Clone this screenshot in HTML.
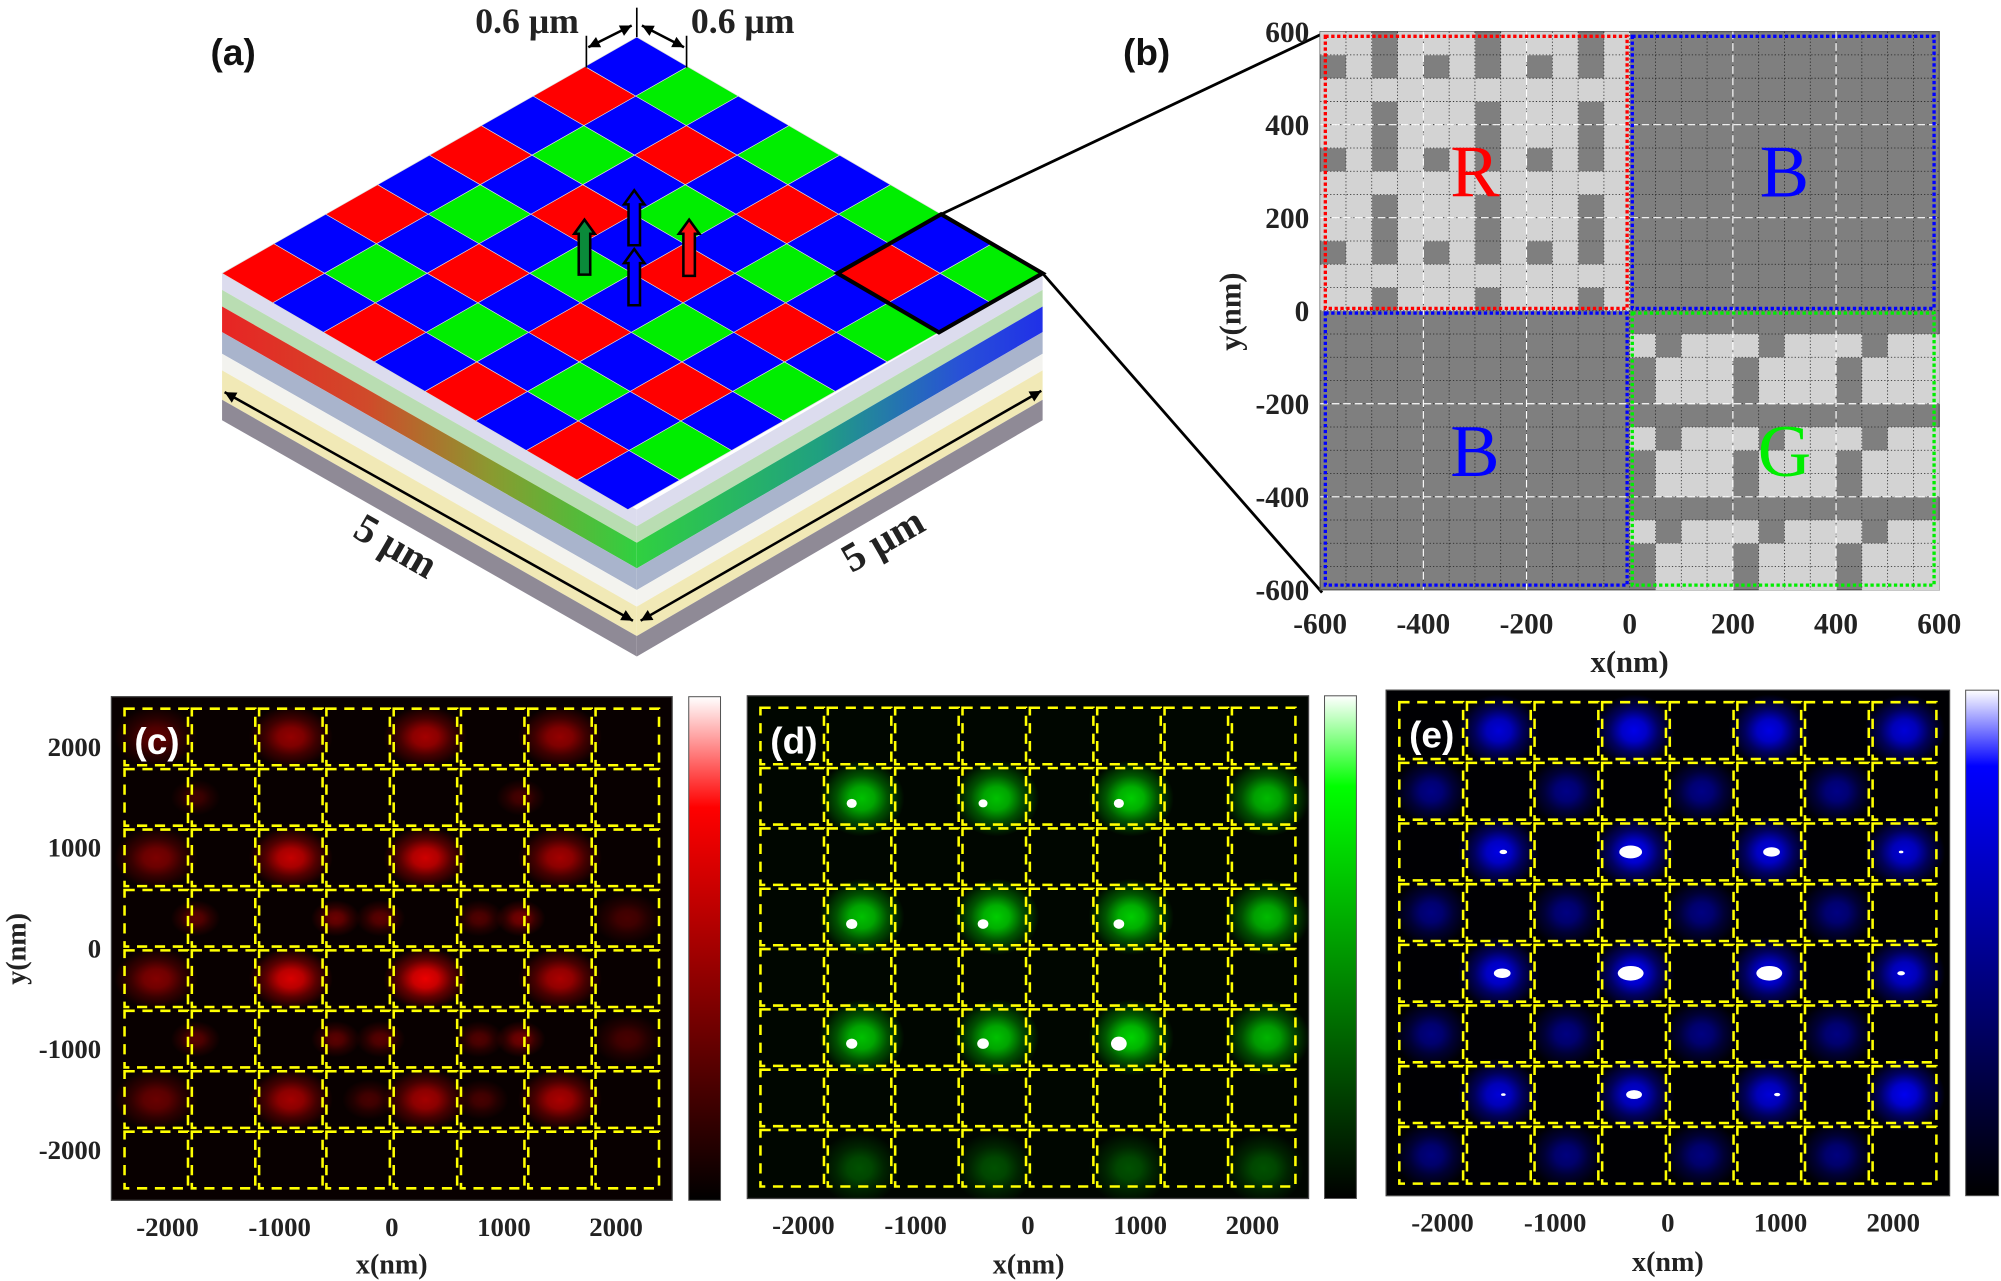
<!DOCTYPE html>
<html><head><meta charset="utf-8">
<style>
html,body{margin:0;padding:0;background:#fff;}
svg{display:block;}
.tk{font-family:"Liberation Serif",serif;font-weight:bold;fill:#222;}
.lbl{font-family:"Liberation Sans",sans-serif;font-weight:bold;}
</style></head>
<body>
<svg id="fig" xmlns="http://www.w3.org/2000/svg" width="2001" height="1281" viewBox="0 0 1568 1003" preserveAspectRatio="none">
<defs>
 <linearGradient id="gLeft" x1="0" y1="0" x2="1" y2="0"><stop offset="0" stop-color="#e82424"/><stop offset="0.35" stop-color="#d04a2a"/><stop offset="0.65" stop-color="#8a9a30"/><stop offset="1" stop-color="#30d040"/></linearGradient>
 <linearGradient id="gRight" x1="0" y1="0" x2="1" y2="0"><stop offset="0" stop-color="#30d040"/><stop offset="0.45" stop-color="#20a080"/><stop offset="0.8" stop-color="#2850d8"/><stop offset="1" stop-color="#2030e8"/></linearGradient>
 <linearGradient id="cbR" x1="0" y1="1" x2="0" y2="0"><stop offset="0" stop-color="#000"/><stop offset="0.78" stop-color="#ff0000"/><stop offset="1" stop-color="#fff"/></linearGradient>
 <linearGradient id="cbG" x1="0" y1="1" x2="0" y2="0"><stop offset="0" stop-color="#000"/><stop offset="0.82" stop-color="#00ff00"/><stop offset="1" stop-color="#fff"/></linearGradient>
 <linearGradient id="cbB" x1="0" y1="1" x2="0" y2="0"><stop offset="0" stop-color="#000"/><stop offset="0.85" stop-color="#0000ff"/><stop offset="1" stop-color="#fff"/></linearGradient>
</defs>
<g id="panelA"></g>
<g id="panelB"></g>
<g id="panelC"></g>
<g id="panelD"></g>
<g id="panelE"></g>

<text class="lbl" x="165" y="51" font-size="29" fill="#111">(a)</text>
<text class="lbl" x="880" y="51" font-size="29" fill="#111">(b)</text>
<text class="tk" x="413" y="26" font-size="28" text-anchor="middle">0.6 μm</text>
<text class="tk" x="582" y="26" font-size="28" text-anchor="middle">0.6 μm</text>
<text class="tk" x="310" y="438" font-size="32" text-anchor="middle" transform="rotate(30 310 428)">5 μm</text>
<text class="tk" x="692" y="433" font-size="32" text-anchor="middle" transform="rotate(-30 692 423)">5 μm</text>
<text class="tk" x="1277" y="526" font-size="24" text-anchor="middle">x(nm)</text>
<text class="tk" x="972" y="244" font-size="24" text-anchor="middle" transform="rotate(-90 972 244)">y(nm)</text>
<text class="tk" x="307" y="997" font-size="22" text-anchor="middle">x(nm)</text>
<text class="tk" x="806" y="997" font-size="22" text-anchor="middle">x(nm)</text>
<text class="tk" x="1307" y="995" font-size="22" text-anchor="middle">x(nm)</text>
<text class="tk" x="20" y="743" font-size="22" text-anchor="middle" transform="rotate(-90 20 743)">y(nm)</text>
</svg>
<script>
const NS="http://www.w3.org/2000/svg";
function mk(tag,attrs,parent){const e=document.createElementNS(NS,tag);for(const k in attrs)e.setAttribute(k,attrs[k]);parent.appendChild(e);return e;}

/* ---------- Panel (a) ---------- */
const gridN=8;
const layerBreaks=[0,13,26,46,63,76,99,115];
const layerColors=["#dcdcee","#b9ddb2","grad","#a9b4cc","#f3f3ef","#f1e9b6","#8f8a96"];
(function(){
 const A=document.getElementById('panelA');
 const T=[499,29],L=[174,214],R=[817,214],B=[499,399];
 for(let k=0;k<layerColors.length;k++){
  const a=layerBreaks[k],b=layerBreaks[k+1];
  const pl=mk('polygon',{points:`${L[0]},${L[1]+a} ${B[0]},${B[1]+a} ${B[0]},${B[1]+b} ${L[0]},${L[1]+b}`,fill:layerColors[k]==='grad'?'url(#gLeft)':layerColors[k]},A);
  
  
  const pr=mk('polygon',{points:`${B[0]},${B[1]+a} ${R[0]},${R[1]+a} ${R[0]},${R[1]+b} ${B[0]},${B[1]+b}`,fill:layerColors[k]==='grad'?'url(#gRight)':layerColors[k]},A);
  
  
 }
 const di=[(R[0]-T[0])/gridN,(R[1]-T[1])/gridN],dj=[(L[0]-T[0])/gridN,(L[1]-T[1])/gridN];
 const P=(i,j)=>[T[0]+i*di[0]+j*dj[0],T[1]+i*di[1]+j*dj[1]];
 for(let i=0;i<gridN;i++)for(let j=0;j<gridN;j++){
  let c='#0000ff';
  if(i%2===1&&j%2===0)c='#00ee00';
  if(i%2===0&&j%2===1)c='#ff0000';
  const p=[P(i,j),P(i+1,j),P(i+1,j+1),P(i,j+1)].map(q=>q.join(',')).join(' ');
  const cell=mk('polygon',{points:p,fill:c,stroke:'#ddd','stroke-width':0.5},A);
  
  
 }
 const bx=[P(6,0),P(8,0),P(8,2),P(6,2)].map(q=>q.join(',')).join(' ');
 const box=mk('polygon',{points:bx,fill:'none',stroke:'#000','stroke-width':3.2},A);
 
 
 const l1=mk('line',{x1:P(6,0)[0],y1:P(6,0)[1],x2:1035,y2:27,stroke:'#000','stroke-width':2.2},A);
 
 
 const l2=mk('line',{x1:R[0],y1:R[1],x2:1036,y2:464,stroke:'#000','stroke-width':2.2},A);
 
 
 function dbl(x1,y1,x2,y2,name){
  const g=mk('g',{},A);
  
  
  mk('line',{x1,y1,x2,y2,stroke:'#000','stroke-width':2},g);
  const ang=Math.atan2(y2-y1,x2-x1),h=9,w=4.5;
  for(const [x,y,s] of [[x1,y1,1],[x2,y2,-1]]){
   const ux=Math.cos(ang)*s,uy=Math.sin(ang)*s;
   mk('polygon',{points:`${x},${y} ${x+ux*h-uy*w},${y+uy*h+ux*w} ${x+ux*h+uy*w},${y+uy*h-ux*w}`,fill:'#000'},g);
  }
 }
 dbl(176,307,496,486,'dimension-arrow-left');
 dbl(502,486,816,306,'dimension-arrow-right');
 dbl(461,37,495,20,'pixel-arrow-left');
 dbl(503,20,536,37,'pixel-arrow-right');
 for(const [x,y1,y2] of [[499,6,29],[459.5,28,53],[538,28,53]]){
  const t=mk('line',{x1:x,y1:y1,x2:x,y2:y2,stroke:'#000','stroke-width':1.3},A);
  
  
 }
 function up(cx,y0,y1,fill,name){
  const hw=8,sw=4.5,hh=11;
  const pts=`${cx},${y0} ${cx+hw},${y0+hh} ${cx+sw},${y0+hh} ${cx+sw},${y1} ${cx-sw},${y1} ${cx-sw},${y0+hh} ${cx-hw},${y0+hh}`;
  const a=mk('polygon',{points:pts,fill,stroke:'#000','stroke-width':2},A);
  
  
 }
 up(458,172,215,'#0a8a3a','green-light-arrow');
 up(497,149,192,'#0000ff','blue-light-arrow-top');
 up(497,195,239,'#0000ff','blue-light-arrow-bottom');
 up(540,172,216,'#ff1010','red-light-arrow');
})();

/* ---------- Panel (b) ---------- */
const rPattern=["110111011101","010101010101","111111111111","110111011101","110111011101","010101010101","111111111111","110111011101","110111011101","010101010101","111111111111","110111011101"];
const gPattern=["000000000000","101110111011","011101110111","011101110111","000000000000","101110111011","011101110111","011101110111","000000000000","101110111011","011101110111","011101110111"];
const bTicks=[-600,-400,-200,0,200,400,600];
const quadLetters=["R","B","B","G"];
(function(){
 const G=document.getElementById('panelB');
 const x0=1034.5,x1=1519.6,y0=24.8,y1=461.8;
 const X=v=>x0+(v+600)/1200*(x1-x0), Y=v=>y0+(600-v)/1200*(y1-y0);
 const bg=mk('rect',{x:x0,y:y0,width:x1-x0,height:y1-y0,fill:'#7f7f7f',stroke:'#555','stroke-width':1},G);
 
 
 function pat(arr,xs,ys,name){
  for(let r=0;r<12;r++)for(let c=0;c<12;c++){
   if(arr[r][c]==='1'){
    const e=mk('rect',{x:X(xs+c*50),y:Y(ys-r*50),width:X(50)-X(0)+0.3,height:Y(0)-Y(50)+0.3,fill:'#d3d3d3'},G);
    
    
   }
  }
 }
 pat(rPattern,-600,600,'r-nanopillar');
 pat(gPattern,0,0,'g-nanopillar');
 for(let v=-550;v<600;v+=50){
  mk('line',{x1:X(v),y1:y0,x2:X(v),y2:y1,stroke:'#222','stroke-width':0.6,'stroke-dasharray':'1,1.6'},G);
  mk('line',{x1:x0,y1:Y(v),x2:x1,y2:Y(v),stroke:'#222','stroke-width':0.6,'stroke-dasharray':'1,1.6'},G);
 }
 for(const v of [-400,-200,200,400]){
  mk('line',{x1:X(v),y1:y0,x2:X(v),y2:y1,stroke:'#fff','stroke-width':0.9,'stroke-dasharray':'6,3'},G);
  mk('line',{x1:x0,y1:Y(v),x2:x1,y2:Y(v),stroke:'#fff','stroke-width':0.9,'stroke-dasharray':'6,3'},G);
 }
 const boxes=[[-590,590,'#ff0000','r-region-box'],[5,590,'#0000ff','b-region-box-top'],[-590,-5,'#0000ff','b-region-box-bottom'],[5,-5,'#00ee00','g-region-box']];
 for(const [bx,by,col,nm] of boxes){
  const r=mk('rect',{x:X(bx),y:Y(by),width:X(585)-X(0),height:Y(0)-Y(585),fill:'none',stroke:col,'stroke-width':2.6,'stroke-dasharray':'2.6,2'},G);
  
  
 }
 const letterPos=[[-300,300,'#ff0000'],[300,300,'#0000ff'],[-300,-300,'#0000ff'],[300,-300,'#00ee00']];
 letterPos.forEach((p,i)=>{
  const t=mk('text',{x:X(p[0]),y:Y(p[1])+20,'font-size':58,'text-anchor':'middle',fill:p[2],'font-family':'"Liberation Serif",serif'},G);
  t.textContent=quadLetters[i];
  
  
 });
 bTicks.forEach(v=>{
  const tx=mk('text',{x:X(v),y:496,'font-size':23,'text-anchor':'middle',class:'tk'},G);
  tx.textContent=String(v);
  
  
  const ty=mk('text',{x:1026,y:Y(v)+8,'font-size':23,'text-anchor':'end',class:'tk'},G);
  ty.textContent=String(v);
  
  
 });
})();

/* ---------- Field maps (c,d,e) ---------- */
const fieldTicks=[-2000,-1000,0,1000,2000];
const cellEdges=[-2400,-1800,-1200,-600,0,600,1200,1800];
const redX=[-2100,-900,300,1500,-2100,-900,300,1500,-2100,-900,300,1500,-2100,-900,300,1500,-1750,-500,-100,780,1150,2100,-1750,-500,-100,780,1150,2100,-1750,1150,-200,800];
const redY=[2100,2100,2100,2100,900,900,900,900,-300,-300,-300,-300,-1500,-1500,-1500,-1500,300,300,300,300,300,300,-900,-900,-900,-900,-900,-900,1500,1500,-1500,-1500];
const redI=[0.28,0.45,0.5,0.45,0.38,0.6,0.63,0.5,0.4,0.66,0.72,0.52,0.32,0.5,0.5,0.52,0.28,0.33,0.28,0.25,0.36,0.22,0.27,0.28,0.27,0.25,0.35,0.22,0.2,0.22,0.22,0.22];
const redW=[340,340,340,340,340,340,340,340,340,340,340,340,340,340,340,340,200,200,200,200,200,280,200,200,200,200,200,280,200,200,220,220];
const greenX=[-1480,-280,920,2130,-1480,-280,920,2130,-1480,-280,920,2130,-1500,-300,900,2100];
const greenY=[1480,1480,1480,1480,300,300,300,300,-900,-900,-900,-900,-2200,-2200,-2200,-2200];
const greenI=[0.62,0.62,0.66,0.6,0.62,0.66,0.66,0.6,0.62,0.62,0.68,0.58,0.26,0.26,0.26,0.26];
const greenW=[380,380,380,380,380,380,380,380,380,380,380,380,360,360,360,360];
const greenCoreX=[-1570,-400,810,-1570,-400,810,-1570,-400,810];
const greenCoreY=[1430,1430,1430,230,230,230,-960,-960,-960];
const greenCoreR=[45,40,45,50,48,48,50,52,70];
const blueX=[-1500,-300,900,2100,-1500,-300,900,2100,-1500,-300,900,2100,-1500,-300,900,2100,-2100,-900,300,1500,-2100,-900,300,1500,-2100,-900,300,1500,-2100,-900,300,1500];
const blueY=[2100,2100,2100,2100,900,900,900,900,-300,-300,-300,-300,-1500,-1500,-1500,-1500,1500,1500,1500,1500,300,300,300,300,-900,-900,-900,-900,-2100,-2100,-2100,-2100];
const blueI=[0.72,0.78,0.76,0.72,0.76,0.8,0.76,0.72,0.76,0.8,0.76,0.72,0.72,0.72,0.72,0.8,0.45,0.45,0.45,0.45,0.43,0.43,0.43,0.43,0.43,0.43,0.43,0.43,0.42,0.42,0.42,0.42];
const blueW=[360,360,360,360,360,360,360,360,360,360,360,360,360,360,360,360,330,330,330,330,330,330,330,330,330,330,330,330,330,330,330,330];
const blueCoreX=[-1460,-330,920,2070,-1470,-330,900,2070,-1460,-300,970];
const blueCoreY=[900,900,900,900,-300,-300,-300,-300,-1500,-1500,-1500];
const blueCoreR=[25,75,55,15,55,85,85,25,15,52,20];

let gid=0;
function cmap(kind,v){
 const brk=kind==='r'?0.78:kind==='g'?0.82:0.85;
 let a=Math.min(1,v/brk), w=v>brk?(v-brk)/(1-brk):0;
 const base=Math.round(255*a), wh=Math.round(255*w);
 if(kind==='r')return `rgb(${Math.max(base,wh)},${wh},${wh})`;
 if(kind==='g')return `rgb(${wh},${Math.max(base,wh)},${wh})`;
 return `rgb(${wh},${wh},${Math.max(base,wh)})`;
}
function field(id,kind,x0,x1,y0,y1,cb0,cb1,bgc,cbGrad,label,xs,ys,is,ws,cx,cy,cr,showY){
 const G=document.getElementById(id);
 const defs=document.querySelector('defs');
 const X=v=>x0+(v+2500)/5000*(x1-x0), Y=v=>y0+(2500-v)/5000*(y1-y0);
 const sx=(x1-x0)/5000, sy=(y1-y0)/5000;
 const clip=mk('clipPath',{id:'clip'+id},defs);
 mk('rect',{x:x0,y:y0,width:x1-x0,height:y1-y0},clip);
 const bg=mk('rect',{x:x0,y:y0,width:x1-x0,height:y1-y0,fill:bgc,stroke:'#444','stroke-width':1},G);
 
 
 const sg=mk('g',{'clip-path':`url(#clip${id})`},G);
 for(let k=0;k<xs.length;k++){
  const gi='sp'+(gid++);
  const rg=mk('radialGradient',{id:gi},defs);
  const col=cmap(kind,is[k]);
  mk('stop',{offset:0,'stop-color':col,'stop-opacity':1},rg);
  mk('stop',{offset:0.3,'stop-color':col,'stop-opacity':0.85},rg);
  mk('stop',{offset:0.6,'stop-color':col,'stop-opacity':0.4},rg);
  mk('stop',{offset:1,'stop-color':col,'stop-opacity':0},rg);
  const e=mk('ellipse',{cx:X(xs[k]),cy:Y(ys[k]),rx:ws[k]*sx*(kind==='r'?1.1:1),ry:ws[k]*sy*(kind==='r'?0.9:1),fill:`url(#${gi})`},sg);
  
  
 }
 for(let k=0;k<cx.length;k++){
  const e=mk('ellipse',{cx:X(cx[k]),cy:Y(cy[k]),rx:cr[k]*sx*(kind==='b'?1.35:1),ry:cr[k]*sy*(kind==='b'?0.85:1),fill:'#fff'},sg);
  
  
 }
 for(const ex of cellEdges)for(const ey of cellEdges){
  const r=mk('rect',{x:X(ex)+1.5,y:Y(ey+600)+1.5,width:600*sx-3,height:600*sy-3,fill:'none',stroke:'#ffff00','stroke-width':2,'stroke-dasharray':'8,6'},G);
  
  
 }
 const cb=mk('rect',{x:cb0,y:y0,width:cb1-cb0,height:y1-y0,fill:`url(#${cbGrad})`,stroke:'#555','stroke-width':0.8},G);
 
 
 const lt=mk('text',{x:x0+18,y:y0+45,'font-size':29,fill:'#fff',class:'lbl'},G);
 lt.textContent='('+label+')';
 
 
 fieldTicks.forEach(v=>{
  const t=mk('text',{x:X(v),y:y1+28,'font-size':21,'text-anchor':'middle',class:'tk'},G);
  t.textContent=String(v);
  
  
  if(showY){
   const ty=mk('text',{x:x0-8,y:Y(v)+7,'font-size':21,'text-anchor':'end',class:'tk'},G);
   ty.textContent=String(v);
   
   
  }
 });
}
field('panelC','r',87.3,526.7,545.5,939.8,539.7,564.6,'#080000','cbR','c',redX,redY,redI,redW,[],[],[],true);
field('panelD','g',585.6,1025.4,544.8,938.4,1037.9,1062.9,'#000600','cbG','d',greenX,greenY,greenI,greenW,greenCoreX,greenCoreY,greenCoreR,false);
field('panelE','b',1086.2,1527.7,540.4,936.2,1540.3,1566.1,'#000003','cbB','e',blueX,blueY,blueI,blueW,blueCoreX,blueCoreY,blueCoreR,false);
</script>
</body></html>
